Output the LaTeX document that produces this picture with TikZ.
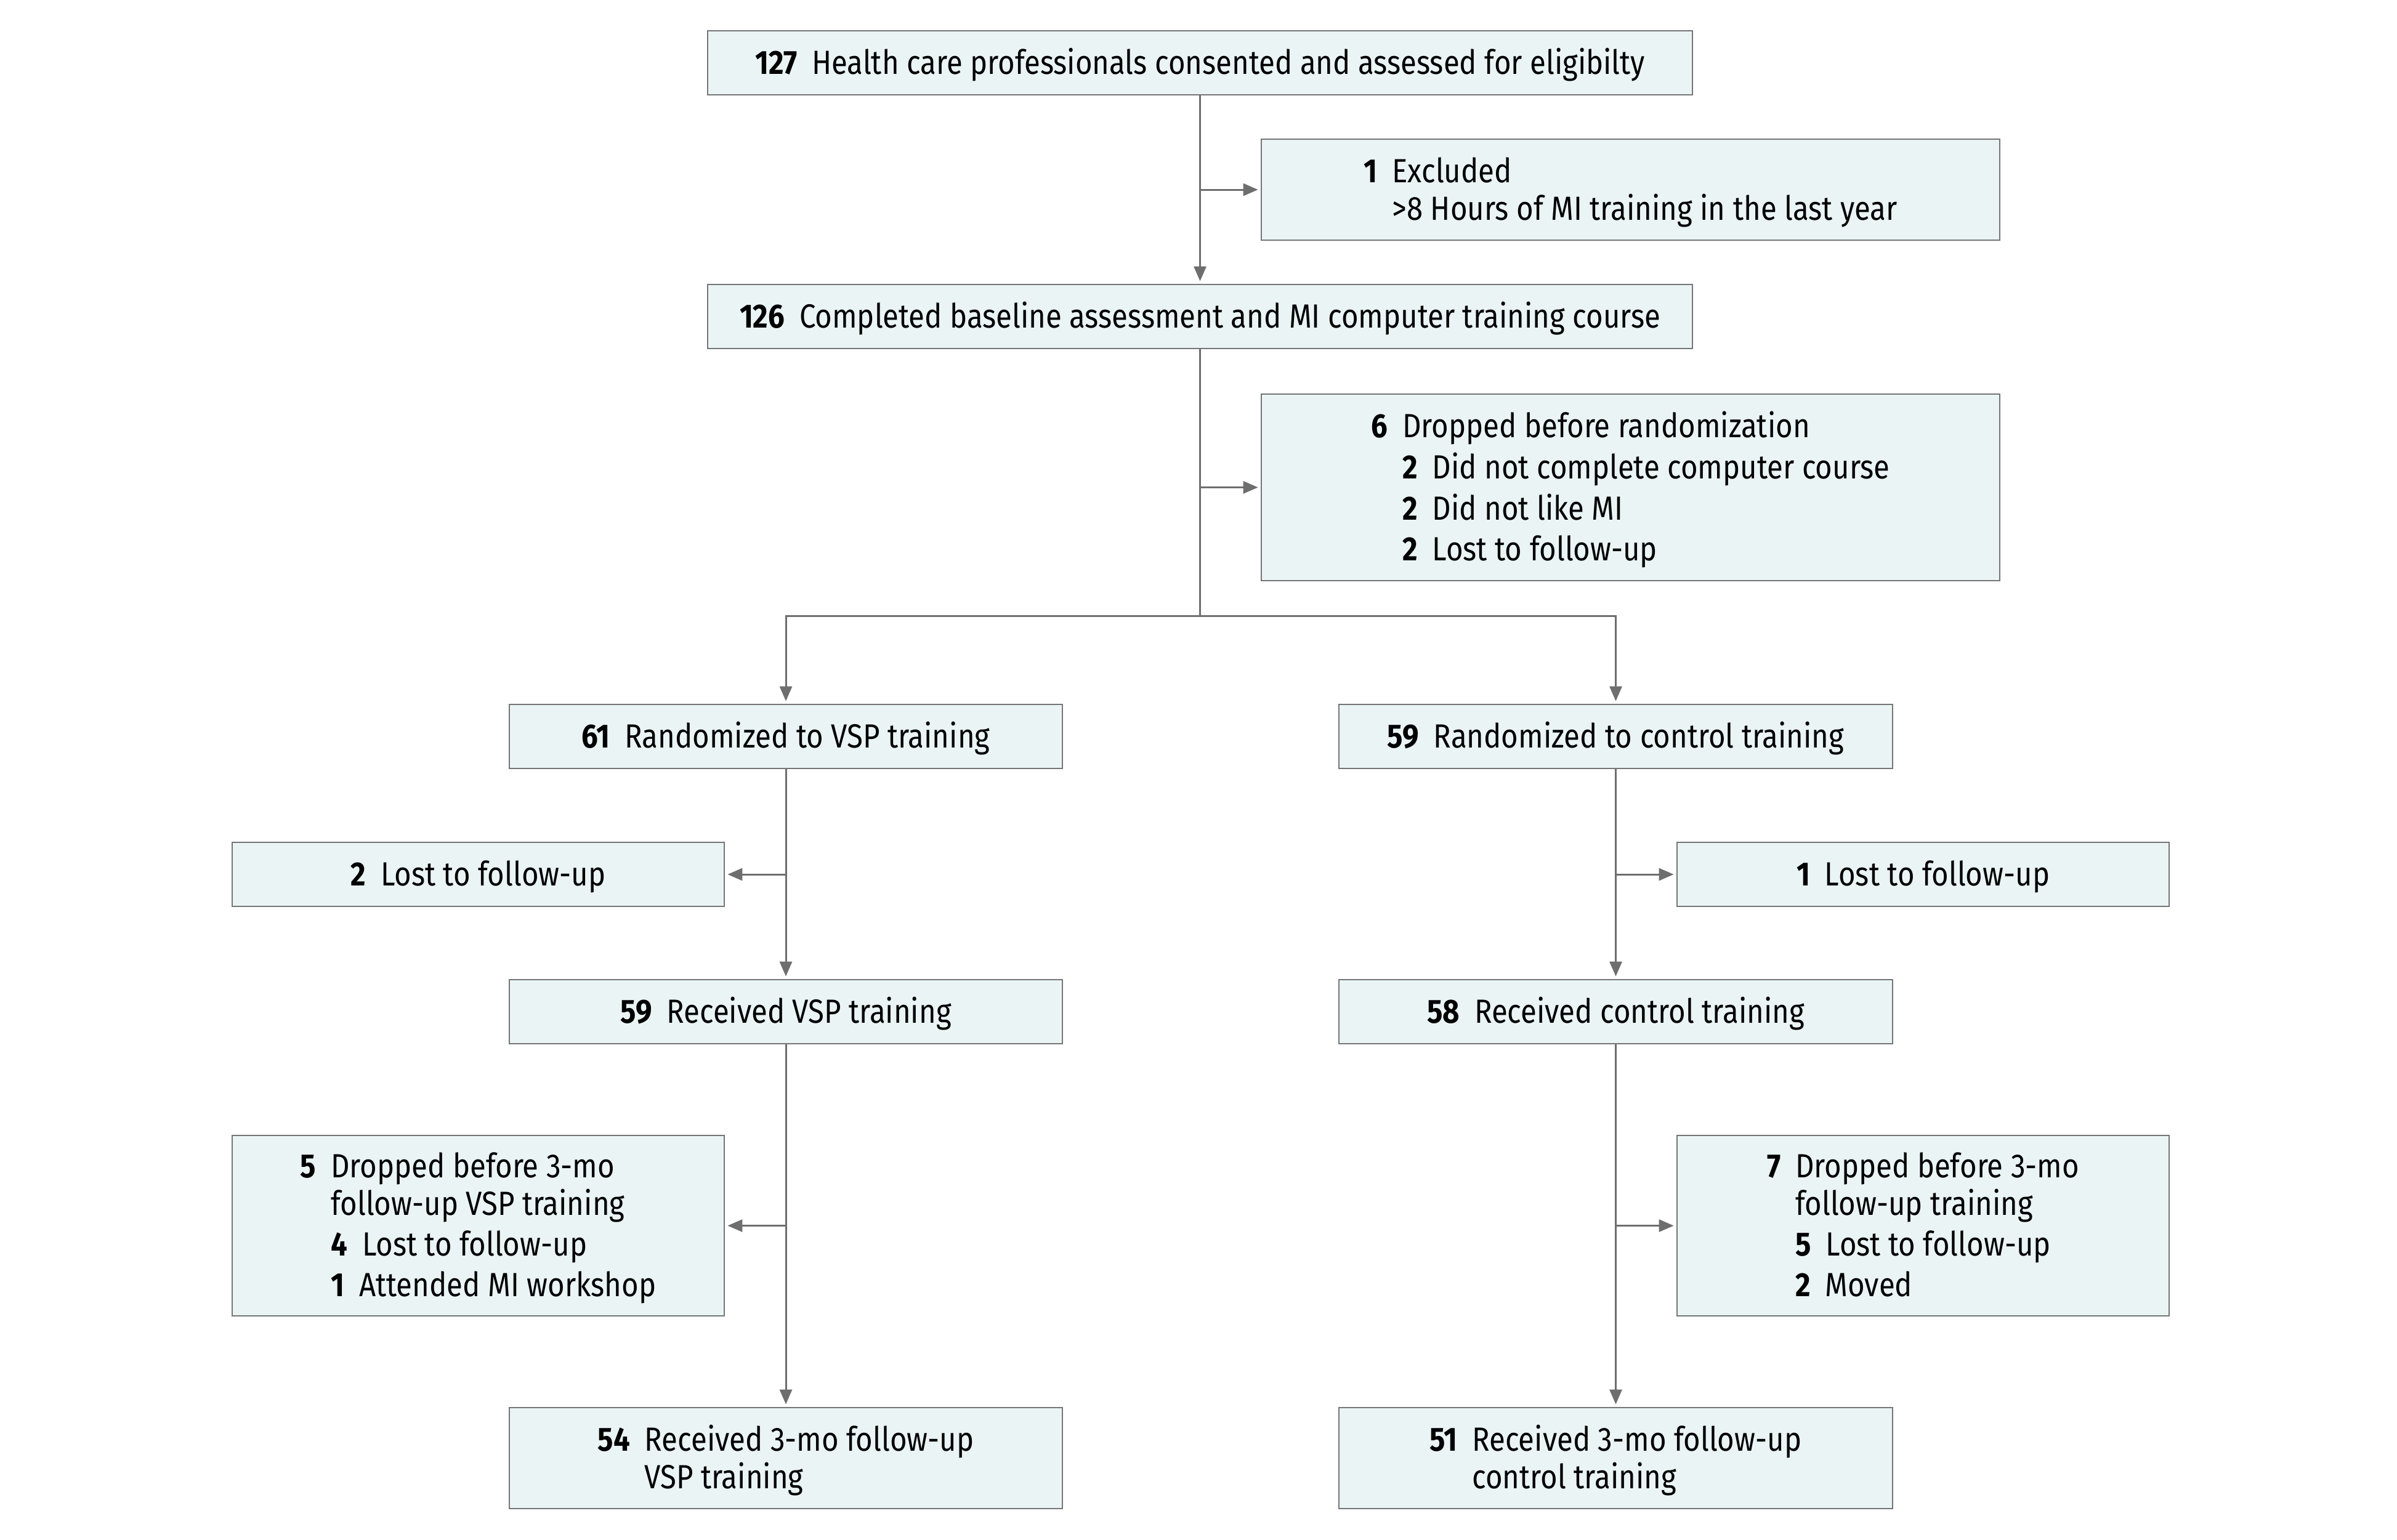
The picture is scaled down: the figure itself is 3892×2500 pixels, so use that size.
\documentclass[tikz,border=0pt]{standalone}
\usepackage{fontspec}
\usepackage{array}
\setmainfont{Fira Sans}[FakeStretch=0.87]
\usetikzlibrary{arrows.meta}
\definecolor{boxfill}{HTML}{EAF4F5}
\definecolor{boxline}{HTML}{757575}
\definecolor{conn}{HTML}{6E6E6E}
\newcommand{\nb}[1]{\textbf{#1}\hspace{6pt}}
\newcommand{\blk}[1]{\begin{tabular}[t]{@{}l@{}}#1\\[-3.4pt]\end{tabular}}
\begin{document}
\begin{tikzpicture}[x=0.25pt,y=-0.25pt,
  box/.style={draw=boxline, fill=boxfill, line width=0.7pt, rectangle, inner sep=0pt,
    font=\fontsize{13.6pt}{15pt}\selectfont, text=black},
  one/.style={text height=9.37pt, text depth=0pt},
  arr/.style={draw=conn, line width=0.75pt, -{Triangle[length=6pt,width=5pt]}, shorten >=1pt},
  ln/.style={draw=conn, line width=0.75pt}]
\useasboundingbox (0,0) rectangle (3892,2500);
% main column
\node[box, one, minimum width=399.75pt, minimum height=26pt] (b1) at (1948.5,102)
  {\nb{127}Health care professionals consented and assessed for eligibilty};
\node[box, minimum width=299.75pt, minimum height=41pt] (ex) at (2647.5,308)
  {\nb{1}\blk{Excluded\\>8 Hours of MI training in the last year}};
\node[box, one, minimum width=399.75pt, minimum height=26pt] (b2) at (1948.5,514)
  {\nb{126}Completed baseline assessment and MI computer training course};
\node[box, minimum width=299.75pt, minimum height=75.75pt] (dr) at (2647.5,791.5)
  {\nb{6}\blk{Dropped before randomization\\[1.6pt] \nb{2}Did not complete computer course\\[1.6pt] \nb{2}Did not like MI\\[1.6pt] \nb{2}Lost to follow-up}};
% VSP arm
\node[box, one, minimum width=224.5pt, minimum height=26pt] (rv) at (1276,1196)
  {\nb{61}Randomized to VSP training};
\node[box, one, minimum width=199.75pt, minimum height=26pt] (lv) at (776.5,1420)
  {\nb{2}Lost to follow-up};
\node[box, one, minimum width=224.5pt, minimum height=26pt] (cv) at (1276,1643)
  {\nb{59}Received VSP training};
\node[box, minimum width=199.75pt, minimum height=73.25pt] (dv) at (776.5,1990.5)
  {\nb{5}\blk{Dropped before 3-mo\\follow-up VSP training\\[1.6pt] \nb{4}Lost to follow-up\\[1.6pt] \nb{1}Attended MI workshop}};
\node[box, minimum width=224.5pt, minimum height=41pt] (fv) at (1276,2368)
  {\nb{54}\blk{Received 3-mo follow-up\\VSP training}};
% control arm
\node[box, one, minimum width=224.75pt, minimum height=26pt] (rc) at (2623.5,1196)
  {\nb{59}Randomized to control training};
\node[box, one, minimum width=199.75pt, minimum height=26pt] (lc) at (3122.5,1420)
  {\nb{1}Lost to follow-up};
\node[box, one, minimum width=224.75pt, minimum height=26pt] (cc) at (2623.5,1643)
  {\nb{58}Received control training};
\node[box, minimum width=199.75pt, minimum height=73.25pt] (dc) at (3122.5,1990.5)
  {\nb{7}\blk{Dropped before 3-mo\\follow-up training\\[1.6pt] \nb{5}Lost to follow-up\\[1.6pt] \nb{2}Moved}};
\node[box, minimum width=224.75pt, minimum height=41pt] (fc) at (2623.5,2368)
  {\nb{51}\blk{Received 3-mo follow-up\\control training}};
% connectors
\coordinate (sp) at (1948.5,1000);
\draw[arr] (b1.south) -- (b2.north);
\draw[arr] (b1.south |- ex.west) -- (ex.west);
\draw[ln] (b2.south) -- (sp);
\draw[arr] (b2.south |- dr.west) -- (dr.west);
\draw[arr] (sp) -| (rv.north);
\draw[arr] (sp) -| (rc.north);
\draw[arr] (rv.south) -- (cv.north);
\draw[arr] (rv.south |- lv.east) -- (lv.east);
\draw[arr] (cv.south) -- (fv.north);
\draw[arr] (cv.south |- dv.east) -- (dv.east);
\draw[arr] (rc.south) -- (cc.north);
\draw[arr] (rc.south |- lc.west) -- (lc.west);
\draw[arr] (cc.south) -- (fc.north);
\draw[arr] (cc.south |- dc.west) -- (dc.west);
\end{tikzpicture}
\end{document}
